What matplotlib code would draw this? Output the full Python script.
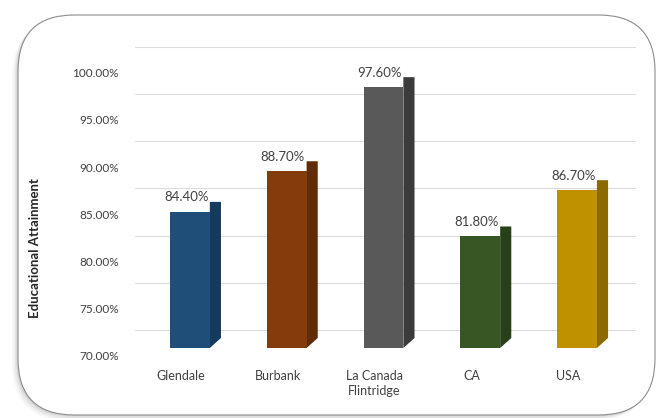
import matplotlib
matplotlib.use("Agg")
import matplotlib.pyplot as plt
from matplotlib.patches import FancyBboxPatch, Polygon
from matplotlib.transforms import ScaledTranslation

# data
places = ["Glendale", "Burbank", "La Canada\nFlintridge", "CA", "USA"]
attainment = [84.40, 88.70, 97.60, 81.80, 86.70]
front_colors = ["#1f4e79", "#843c0c", "#595959", "#375623", "#bf9000"]
side_colors = ["#163a5c", "#5f2b08", "#3b3b3b", "#27401a", "#8c6a00"]
yticks = [70, 75, 80, 85, 90, 95, 100]

W, H = 664, 418
fig = plt.figure(figsize=(W / 100, H / 100), dpi=100)
plt.rcParams["font.family"] = ["Lato", "DejaVu Sans"]

# rounded frame with soft shadow on the left / bottom
for i, a in enumerate([0.04, 0.06, 0.09, 0.13]):
    off = (4 - i) * 1.5
    sh = FancyBboxPatch(((18 - off) / W, (3 - off) / H), 637 / W, 400 / H,
                        boxstyle="round,pad=0,rounding_size=0.085",
                        transform=fig.transFigure, fc="#707070", ec="none",
                        alpha=a, mutation_aspect=W / H, zorder=-2)
    fig.patches.append(sh)
frame = FancyBboxPatch((18 / W, 3 / H), 637 / W, 400 / H,
                       boxstyle="round,pad=0,rounding_size=0.085",
                       transform=fig.transFigure, fc="white", ec="#8c8c8c",
                       lw=0.8, mutation_aspect=W / H, zorder=-1)
fig.patches.append(frame)

ax = fig.add_axes([130 / W, 70 / H, 510 / W, 283.5 / H])
ax.set_zorder(1)
ax.patch.set_alpha(0)
ax.set_xlim(-0.62, 4.65)
ax.set_ylim(70, 100)
for s in ax.spines.values():
    s.set_visible(False)

# back-wall gridlines (shifted up by the 3D depth)
grid_dy = 1.9
for v in yticks:
    ax.plot([-0.57, 4.6], [v + grid_dy, v + grid_dy], color="#dcdcdc",
            lw=0.8, zorder=0, clip_on=False)

w = 0.41
dx, dy = 0.115, 1.06
x = list(range(len(places)))
ax.bar(x, [v - 70 for v in attainment], bottom=70, width=w,
       color=front_colors, zorder=3)
for xi, v, sc in zip(x, attainment, side_colors):
    xr = xi + w / 2
    ax.add_patch(Polygon([(xr, 70), (xr + dx, 70 + dy), (xr + dx, v + dy),
                          (xr, v + dy)], closed=True, fc=sc, ec="none",
                         zorder=2, clip_on=False))
    ax.text(xi - 0.04, v + dy - 0.15, f"{v:.2f}%", ha="center", va="bottom",
            fontsize=9.5, color="#404040", zorder=4)

ax.set_yticks(yticks)
ax.set_yticklabels([f"{v:.2f}%" for v in yticks], fontsize=8.5,
                   color="#404040")
ax.tick_params(axis="y", length=0, pad=8)
for lab in ax.get_yticklabels():
    lab.set_transform(lab.get_transform() +
                      ScaledTranslation(0, -0.08, fig.dpi_scale_trans))

ax.set_xticks(x)
ax.set_xticklabels(places, fontsize=9, color="#404040", linespacing=1.3)
ax.tick_params(axis="x", length=0, pad=16)
for lab in ax.get_xticklabels():
    lab.set_transform(lab.get_transform() +
                      ScaledTranslation(-0.09, 0, fig.dpi_scale_trans))

fig.text(35 / W, 1 - 248 / H, "Educational Attainment", rotation=90,
         ha="center", va="center", fontsize=9.5, fontweight="bold",
         color="#262626")

fig.savefig("out.png", dpi=100)
